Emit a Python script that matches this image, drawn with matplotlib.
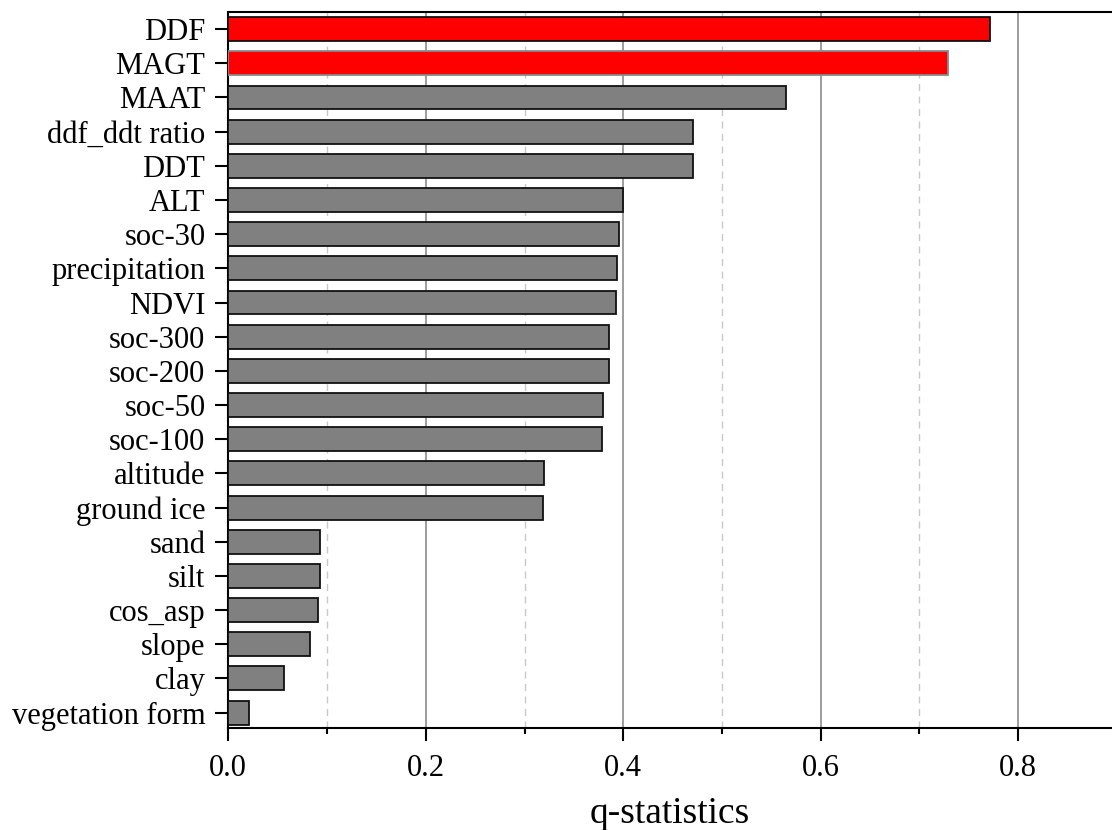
import numpy as np
import matplotlib
matplotlib.use("Agg")
import matplotlib.pyplot as plt
from matplotlib.ticker import MultipleLocator

# factors, top to bottom as shown
factors = ['DDF', 'MAGT', 'MAAT', 'ddf_ddt ratio', 'DDT', 'ALT', 'soc-30',
           'precipitation', 'NDVI', 'soc-300', 'soc-200', 'soc-50', 'soc-100',
           'altitude', 'ground ice', 'sand', 'silt', 'cos_asp', 'slope', 'clay',
           'vegetation form']
q_values = [0.771, 0.729, 0.565, 0.471, 0.471, 0.400, 0.396,
            0.394, 0.393, 0.386, 0.386, 0.379, 0.378,
            0.320, 0.319, 0.093, 0.0925, 0.0905, 0.083, 0.056,
            0.021]
highlight = ['DDF', 'MAGT']

plt.rcParams['font.family'] = ['Liberation Serif', 'DejaVu Serif']

fig = plt.figure(figsize=(11.12, 8.30), dpi=100)
ax = fig.add_axes([0.2053, 0.1229, 0.7947, 0.8626])

y = np.arange(len(factors))
colors = ['#ff0000' if f in highlight else '#808080' for f in factors]
edges = ['#8a8a8a' if f == 'MAGT' else '#111111' for f in factors]
ax.barh(y, q_values, height=0.7, color=colors, edgecolor=edges,
        linewidth=1.3, zorder=3)

ax.set_ylim(len(factors) - 0.55, -0.5)
ax.set_xlim(0, 0.895)
ax.set_yticks(y)
ax.set_yticklabels(factors)

ax.xaxis.set_major_locator(MultipleLocator(0.2))
ax.xaxis.set_minor_locator(MultipleLocator(0.1))
ax.set_xticks([0.0, 0.2, 0.4, 0.6, 0.8])
ax.set_xticklabels(['0.0', '0.2', '0.4', '0.6', '0.8'])

# grid: solid major, dashed minor
ax.grid(True, axis='x', which='major', color='#8c8c8c', linewidth=1.2, zorder=0)
ax.grid(True, axis='x', which='minor', color='#c8c8c8', linewidth=1.0,
        linestyle=(0, (5, 4)), zorder=0)
ax.set_axisbelow(True)

ax.tick_params(axis='y', which='major', direction='out', length=9.5, width=1.5,
               labelsize=22, pad=7)
ax.tick_params(axis='x', which='major', direction='out', length=9.5, width=1.5,
               labelsize=22, pad=9)
ax.tick_params(axis='x', which='minor', direction='out', length=4.5, width=1.5)
ax.tick_params(axis='y', which='minor', left=False)

for side in ['left', 'bottom', 'top']:
    ax.spines[side].set_linewidth(1.5)
    ax.spines[side].set_color('black')
ax.spines['right'].set_visible(False)

ax.set_xlabel('q-statistics', fontsize=27, labelpad=10)

fig.savefig('out.png', dpi=100)
